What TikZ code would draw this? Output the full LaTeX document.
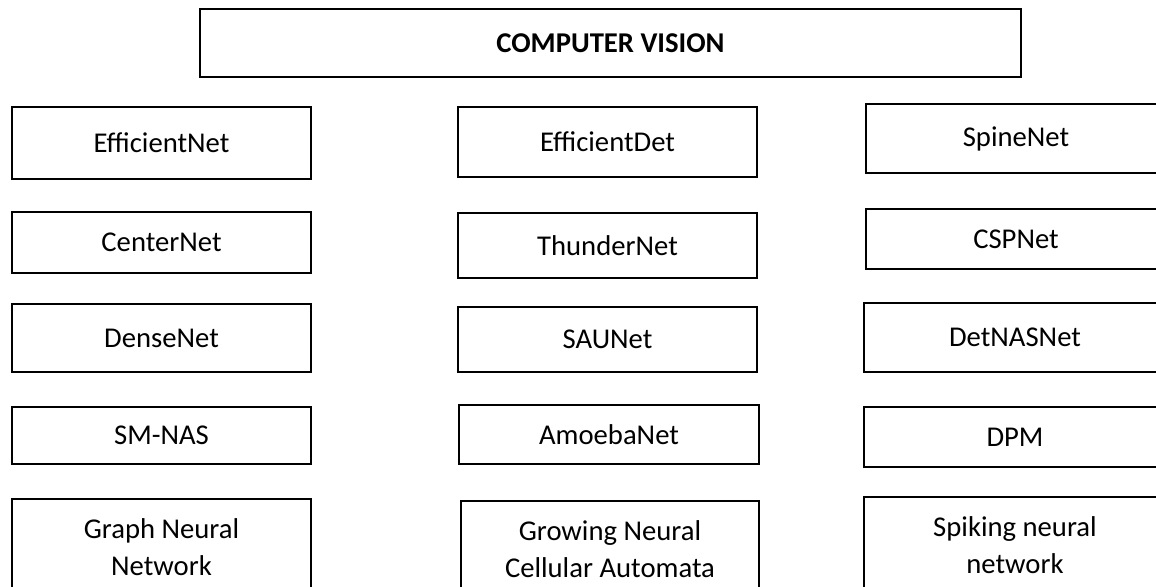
\documentclass[tikz,border=0pt]{standalone}
\usepackage{fontspec}
\setmainfont{Carlito}
\tikzset{
  cvb/.style={draw=black, line width=1.1pt, inner sep=0pt, align=center,
    font=\fontsize{21.5}{27.5}\selectfont},
}
\newcommand\cvbox[6]{\node[cvb, minimum width={(#4-#2)*0.75pt}, minimum height={(#5-#3)*0.75pt}] (#1) at ({(#2+#4)/2},{(#3+#5)/2}) {#6};}
\begin{document}
\begin{tikzpicture}[x=0.75pt, y=-0.75pt]
\useasboundingbox (0,0) rectangle (1156,586);
\clip (0,0) rectangle (1156,586);
\fill[white] (0,0) rectangle (1156,586);
\cvbox{cv}{200}{9}{1021}{77}{\textbf{COMPUTER VISION}}
% column 1
\cvbox{effnet}{12}{107}{311}{179}{EfficientNet}
\cvbox{center}{12}{212}{311}{273}{CenterNet}
\cvbox{dense}{12}{304}{311}{372}{DenseNet}
\cvbox{smnas}{12}{407}{311}{464}{SM-NAS}
\cvbox{gnn}{12}{499}{311}{595}{Graph Neural\\Network}
% column 2
\cvbox{effdet}{458}{107}{757}{177}{EfficientDet}
\cvbox{thunder}{458}{213}{757}{278}{ThunderNet}
\cvbox{sau}{458}{307}{757}{372}{SAUNet}
\cvbox{amoeba}{459}{405}{759}{464}{AmoebaNet}
\cvbox{gnca}{461}{501}{759}{597}{Growing Neural\\Cellular Automata}
% column 3
\cvbox{spine}{866}{104}{1166}{173}{SpineNet}
\cvbox{csp}{866}{209}{1166}{269}{CSPNet}
\cvbox{detnas}{864}{303}{1166}{372}{DetNASNet}
\cvbox{dpm}{864}{407}{1166}{467}{DPM}
\cvbox{snn}{864}{497}{1166}{593}{Spiking neural\\network}
\end{tikzpicture}
\end{document}
